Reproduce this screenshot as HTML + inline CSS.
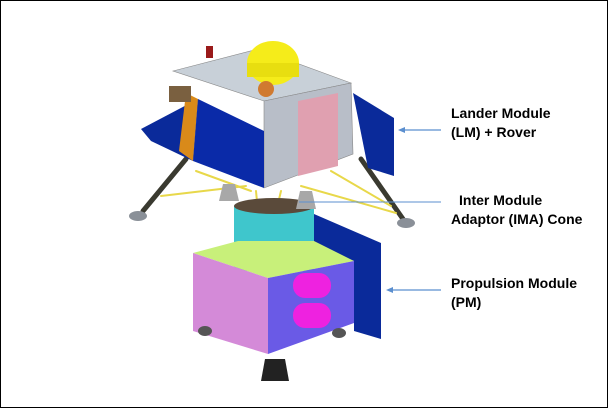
<!DOCTYPE html>
<html><head><meta charset="utf-8"><style>
html,body{margin:0;padding:0;background:#fff}
#wrap{width:606px;height:406px;border:1px solid #000;position:relative;overflow:hidden}
.lbl{position:absolute;font-family:"Liberation Sans",sans-serif;font-weight:bold;font-size:14px;line-height:19px;color:#000}
</style></head><body>
<div id="wrap">
<svg width="606" height="406" style="position:absolute;left:0;top:0">
<!-- legs -->
<g stroke-linecap="round">
<line x1="185" y1="158" x2="142" y2="210" stroke="#3a3a30" stroke-width="5"/>
<line x1="360" y1="158" x2="402" y2="218" stroke="#3a3a30" stroke-width="5"/>
<line x1="195" y1="170" x2="250" y2="190" stroke="#e8d84a" stroke-width="2"/>
<line x1="160" y1="195" x2="245" y2="185" stroke="#e8d84a" stroke-width="2"/>
<line x1="330" y1="170" x2="390" y2="205" stroke="#e8d84a" stroke-width="2"/>
<line x1="300" y1="185" x2="395" y2="212" stroke="#e8d84a" stroke-width="2"/>
<line x1="255" y1="190" x2="262" y2="265" stroke="#e8d84a" stroke-width="2"/>
<line x1="280" y1="190" x2="262" y2="265" stroke="#e8d84a" stroke-width="2"/>
</g>
<ellipse cx="137" cy="215" rx="9" ry="5" fill="#8a9098"/>
<ellipse cx="405" cy="222" rx="9" ry="5" fill="#8a9098"/>
<!-- right blue PM panel -->
<polygon points="313,213 380,242 380,338 353,330 353,260 313,245" fill="#0a2a9a"/>
<!-- IMA cone -->
<rect x="233" y="205" width="80" height="65" fill="#3fc6cc"/>
<ellipse cx="273" cy="205" rx="40" ry="8" fill="#5a4a3a"/>
<!-- thrusters -->
<polygon points="222,183 234,183 238,200 218,200" fill="#a8a8a8"/>
<polygon points="299,190 311,190 315,208 295,208" fill="#a8a8a8"/>
<!-- PM -->
<g>
<polygon points="192,252 237,240 313,240 353,260 267,277" fill="#c8f07a"/>
<polygon points="192,252 267,277 267,353 192,330" fill="#d48ad8"/>
<polygon points="267,277 353,260 353,322 267,353" fill="#6a5ae6"/>
<rect x="292" y="272" width="38" height="25" rx="12" fill="#ee22e0"/>
<rect x="292" y="302" width="38" height="25" rx="12" fill="#ee22e0"/>
<polygon points="264,358 284,358 288,380 260,380" fill="#222"/>
<ellipse cx="204" cy="330" rx="7" ry="5" fill="#555"/>
<ellipse cx="338" cy="332" rx="7" ry="5" fill="#555"/>
</g>
<!-- lander -->
<g>
<polygon points="352,92 393,117 393,175 367,167" fill="#0a2a9a"/>
<polygon points="140,128 197,98 192,160 150,140" fill="#0a2a9a"/>
<polygon points="172,70 257,48 350,82 263,100" fill="#c8d0d8" stroke="#888" stroke-width="0.6"/>
<polygon points="185,92 197,98 192,160 178,150" fill="#d98a1a"/>
<polygon points="263,100 350,82 352,153 263,187" fill="#b8bec8" stroke="#888" stroke-width="0.6"/>
<polygon points="297,100 337,92 337,165 297,175" fill="#e0a0b0"/>
<polygon points="197,98 263,130 263,187 192,160" fill="#0a2aa8"/>
<ellipse cx="272" cy="62" rx="26" ry="22" fill="#f5ec1a"/>
<rect x="246" y="62" width="52" height="14" fill="#e8de10"/>
<circle cx="265" cy="88" r="8" fill="#d07a30"/>
<rect x="168" y="85" width="22" height="16" fill="#7a6040"/>
<rect x="205" y="45" width="7" height="12" fill="#9a1a1a"/>
</g>
<!-- arrows -->
<g stroke="#5b8fcf" stroke-width="1.3" fill="#5b8fcf">
<line x1="402" y1="129" x2="440" y2="129"/><polygon points="397,129 404,126 404,132" stroke="none"/>
<line x1="298" y1="201" x2="440" y2="201" stroke-width="1"/>
<line x1="390" y1="289" x2="440" y2="289"/><polygon points="385,289 392,286 392,292" stroke="none"/>
</g>
</svg>
<div class="lbl" style="left:450px;top:103px">Lander Module<br>(LM) + Rover</div>
<div class="lbl" style="left:450px;top:190px;left:458px">Inter Module<br><span style="margin-left:-8px">Adaptor (IMA) Cone</span></div>
<div class="lbl" style="left:450px;top:273px">Propulsion Module<br>(PM)</div>
</div>
</body></html>
